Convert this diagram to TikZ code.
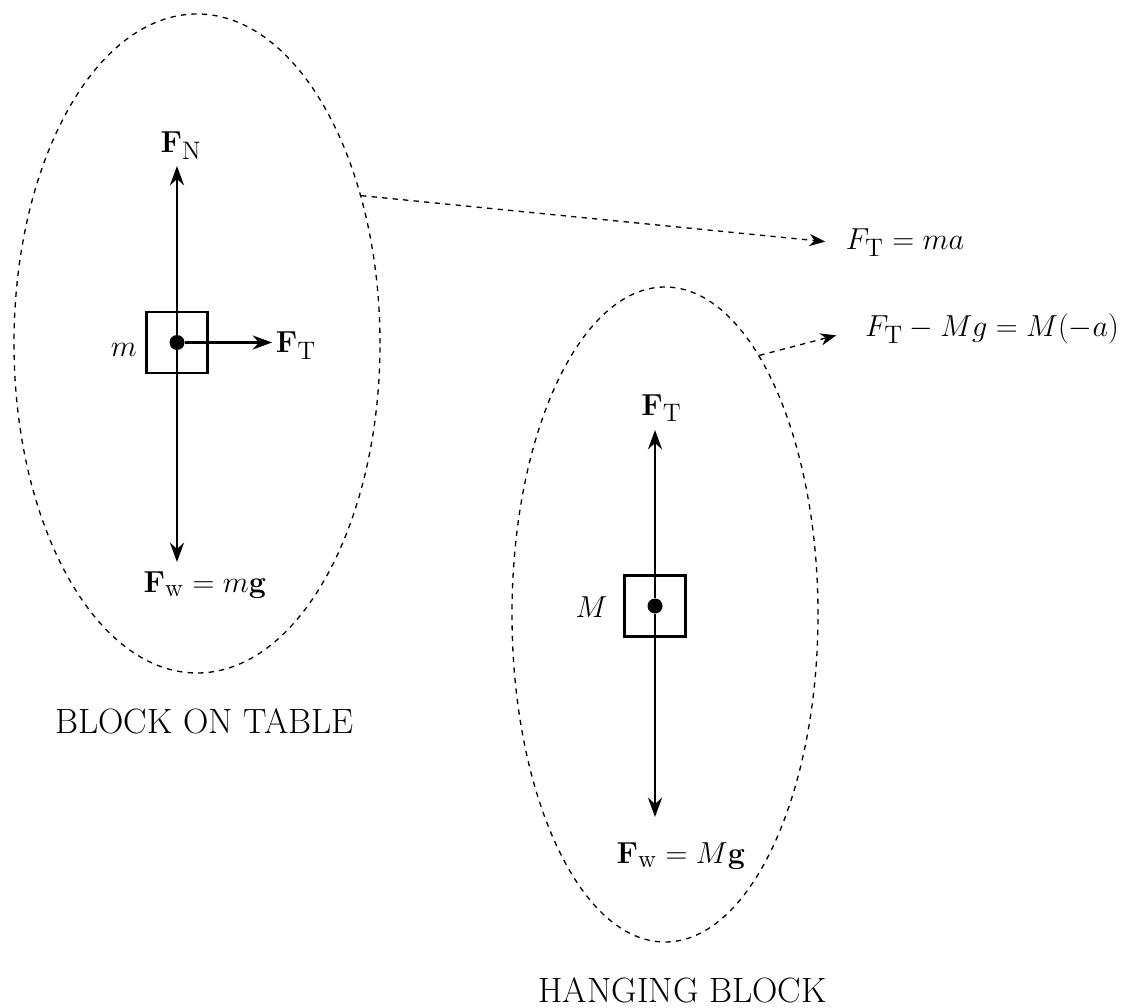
\documentclass[tikz,border=0pt]{standalone}
\usetikzlibrary{arrows.meta,shapes.geometric}
\DeclareMathSizes{18}{18}{14.5}{11}
\begin{document}
\begin{tikzpicture}[
  fbd/.style={draw, dashed, ellipse, inner sep=0pt, line width=0.75pt},
  blk/.style={draw, rectangle, minimum size=1.22cm, line width=1.3pt},
  pt/.style={circle, fill, inner sep=0pt, minimum size=0.3cm},
  force/.style={-{Stealth[length=11pt,width=8pt]}, line width=1.4pt},
  link/.style={dashed, -{Stealth[length=9pt,width=7pt]}, line width=0.75pt},
  lbl/.style={anchor=base, font=\fontsize{18}{22}\selectfont},
  title/.style={anchor=base, font=\fontsize{20}{24}\selectfont}
]
\useasboundingbox (0,0) rectangle (22.44,20.14);

\node[fbd, minimum width=7.32cm, minimum height=13.18cm] (tbl) at (3.94,13.27) {};
\node[fbd, minimum width=6.12cm, minimum height=13.10cm] (hng) at (13.30,7.85) {};

\node[blk] (bm) at (3.54,13.29) {};
\node[pt] (cm) at (3.54,13.29) {};
\coordinate (fnm) at (3.54,16.82);
\coordinate (fwm) at (3.54,8.90);
\coordinate (ftm) at (5.44,13.29);

\node[blk] (bM) at (13.10,8.02) {};
\node[pt] (cM) at (13.10,8.02) {};
\coordinate (ftM) at (13.10,11.54);
\coordinate (fwM) at (13.10,3.80);

\node[lbl] (lfn) at (3.62,17.08) {$\mathbf{F}_{\mathrm{N}}$};
\node[lbl] (lftm) at (5.92,13.08) {$\mathbf{F}_{\mathrm{T}}$};
\node[lbl] (lm) at (2.48,13.00) {$m$};
\node[lbl] (lfwm) at (4.10,8.30) {$\mathbf{F}_{\mathrm{w}} = m\mathbf{g}$};
\node[title] (ttbl) at (4.09,5.48) {BLOCK ON TABLE};

\node[lbl] (lftM) at (13.23,11.84) {$\mathbf{F}_{\mathrm{T}}$};
\node[lbl] (lM) at (11.83,7.80) {$M$};
\node[lbl] (lfwM) at (13.62,2.88) {$\mathbf{F}_{\mathrm{w}} = M\mathbf{g}$};
\node[title] (thng) at (13.65,0.10) {HANGING BLOCK};

\node[lbl] (eqa) at (18.10,15.14) {$F_{\mathrm{T}} = ma$};
\node[lbl] (eqb) at (19.84,13.40) {$F_{\mathrm{T}} - Mg = M(-a)$};

\draw[force] (cm) -- (fnm);
\draw[force] (cm) -- (fwm);
\draw[force] (cm) -- (ftm);
\draw[force] (cM) -- (ftM);
\draw[force] (cM) -- (fwM);

\draw[link, shorten >=0.29cm] (tbl.42) -- (eqa.west);
\draw[link, shorten >=0.47cm] (hng.70) -- (eqb.west);
\end{tikzpicture}
\end{document}
